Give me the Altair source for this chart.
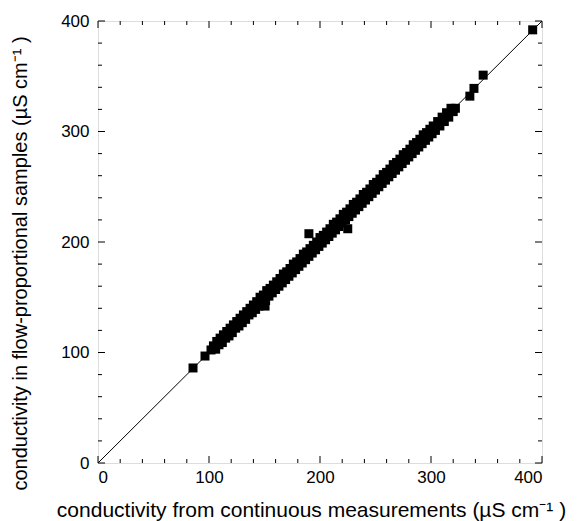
import altair as alt
import pandas as pd

cont_x = [104,106,107,109,110,112,113,115,116,118,119,121,122,124,125,127,128,130,131,133,
          134,136,137,139,140,142,143,145,146,148,149,151,152,154,155,157,158,160,161,163,
          164,166,167,169,170,172,173,175,176,178,179,181,182,184,185,187,188,190,191,193,
          194,196,197,199,200,202,203,205,206,208,209,211,212,214,215,217,218,220,221,223,
          224,226,227,229,230,232,233,235,236,238,239,241,242,244,245,247,248,250,251,253,
          254,256,257,259,260,262,263,265,266,268,269,271,272,274,275,277,278,280,281,283,
          284,286,287,289,290,292,293,295,296,298,299,301,302,304,306,308,310,312,314,316,
          318,320]
flow_y = [106,103,110,107,113,109,116,113,119,115,122,118,125,122,128,124,131,127,134,130,
          137,134,140,136,143,139,146,142,150,145,152,147,156,151,158,154,161,157,164,160,
          167,163,171,166,173,169,176,172,180,175,182,178,185,181,189,184,191,187,194,190,
          197,193,200,196,204,199,206,202,209,205,212,208,216,211,218,214,221,217,225,220,
          227,223,230,226,234,229,236,232,239,235,243,238,245,241,248,244,252,247,254,250,
          257,253,261,256,263,259,266,262,270,265,272,268,275,271,279,274,281,277,284,280,
          288,283,290,286,293,289,297,292,299,295,302,298,305,301,309,305,313,309,317,313,
          321,318]
# Isolated points
iso_x = [85.6, 96.4, 101.8, 150.5, 190.0, 225.0, 322.0, 335.0, 338.7, 347.0, 391.6]
iso_y = [86.0, 96.8, 102.3, 142.0, 207.5, 212.0, 321.0, 332.0, 339.0, 351.0, 392.0]

major_ticks = [0, 100, 200, 300, 400]
minor_ticks = [20, 40, 60, 80, 120, 140, 160, 180, 220, 240, 260, 280, 320, 340, 360, 380]

x_title = "conductivity from continuous measurements (µS cm⁻¹ )"
y_title = "conductivity in flow-proportional samples (µS cm⁻¹ )"

W, H = 444, 442
FONT = "Liberation Sans"

pts = pd.DataFrame({"x": cont_x + iso_x, "y": flow_y + iso_y})
diag = pd.DataFrame({"x": [0], "y": [0], "x2": [400], "y2": [400]})
major_df = pd.DataFrame({"v": major_ticks})
minor_df = pd.DataFrame({"v": minor_ticks})

xs = alt.Scale(domain=[0, 400], nice=False, zero=False)
ys = alt.Scale(domain=[0, 400], nice=False, zero=False)

x_axis = alt.Axis(values=major_ticks, title=x_title, domain=False, ticks=False, grid=False,
                  labelFont=FONT, labelFontSize=17, labelColor="black", labelPadding=6,
                  titleFont=FONT, titleFontSize=21, titleFontWeight="normal", titleColor="black",
                  titleX=213, titleY=47, titleAlign="center", titleBaseline="middle")
y_axis = alt.Axis(values=major_ticks, title=y_title, domain=False, ticks=False, grid=False,
                  labelFont=FONT, labelFontSize=17, labelColor="black", labelPadding=9,
                  titleFont=FONT, titleFontSize=20, titleFontWeight="normal", titleColor="black",
                  titleAngle=-90, titleX=-78, titleY=242, titleAlign="center", titleBaseline="middle")

points = alt.Chart(pts).mark_square(size=81, color="black", opacity=1).encode(
    x=alt.X("x:Q", scale=xs, axis=x_axis),
    y=alt.Y("y:Q", scale=ys, axis=y_axis),
)

line = alt.Chart(diag).mark_rule(color="black", strokeWidth=1).encode(
    x=alt.X("x:Q", scale=xs, axis=x_axis),
    y=alt.Y("y:Q", scale=ys, axis=y_axis),
    x2="x2:Q",
    y2="y2:Q",
)

def tick_layers(df, length):
    bottom = alt.Chart(df).mark_rule(color="black", strokeWidth=1).encode(
        x=alt.X("v:Q", scale=xs, axis=x_axis), y=alt.value(H), y2=alt.value(H - length))
    top = alt.Chart(df).mark_rule(color="black", strokeWidth=1).encode(
        x=alt.X("v:Q", scale=xs, axis=x_axis), y=alt.value(0), y2=alt.value(length))
    left = alt.Chart(df).mark_rule(color="black", strokeWidth=1).encode(
        y=alt.Y("v:Q", scale=ys, axis=y_axis), x=alt.value(0), x2=alt.value(length))
    right = alt.Chart(df).mark_rule(color="black", strokeWidth=1).encode(
        y=alt.Y("v:Q", scale=ys, axis=y_axis), x=alt.value(W), x2=alt.value(W - length))
    return [bottom, top, left, right]

layers = [points, line] + tick_layers(major_df, 7) + tick_layers(minor_df, 4)

chart = alt.layer(*layers).properties(
    width=W, height=H,
    autosize=alt.AutoSizeParams(type="none"),
    padding={"left": 90, "top": 13, "right": 30, "bottom": 58},
).configure_view(stroke="black", strokeWidth=1.5).configure(background="white")

chart.save("out.html", embed_options={"renderer": "svg", "actions": False})
